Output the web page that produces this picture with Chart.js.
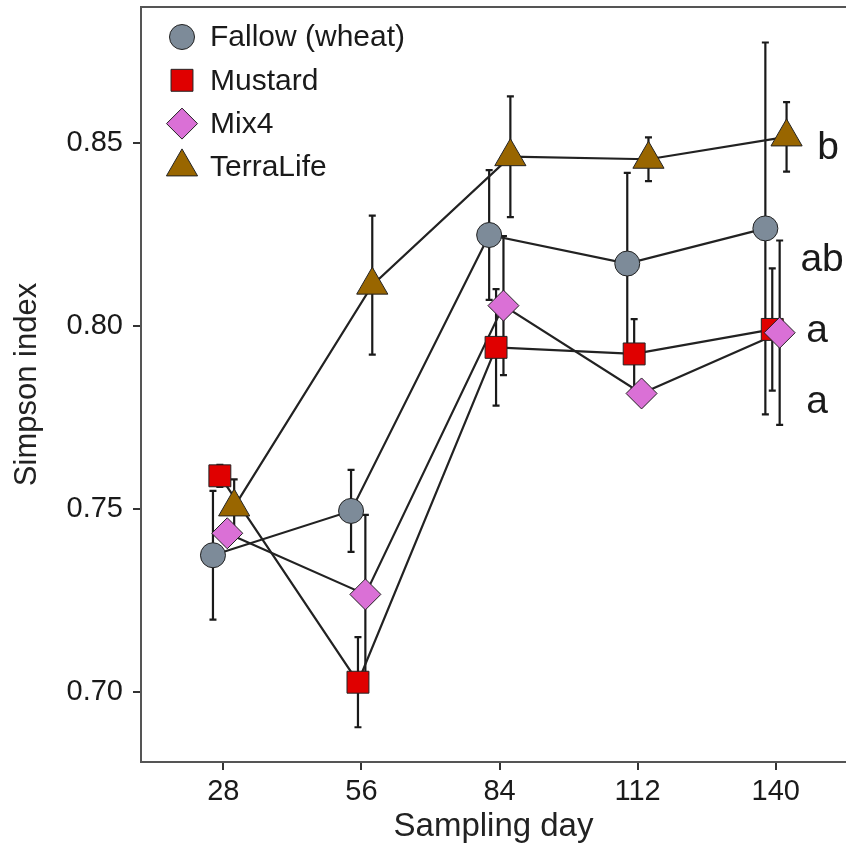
<!DOCTYPE html>
<html>
<head>
<meta charset="utf-8">
<script src="https://cdn.jsdelivr.net/npm/chart.js@4.4.1/dist/chart.umd.min.js"></script>
<style>
  html, body { margin: 0; padding: 0; background: #fff; }
</style>
</head>
<body>
<canvas id="simpsonChart" width="846" height="848"></canvas>
<script>
// Simpson index by sampling day, four cover-crop treatments

const days = [28, 56, 84, 112, 140];
const yTicks = [0.70, 0.75, 0.80, 0.85];
const seriesNames = ['Fallow (wheat)', 'Mustard', 'Mix4', 'TerraLife'];

// means
const fallow  = [0.7373, 0.7494, 0.8248, 0.8170, 0.8266];
const mustard = [0.7590, 0.7026, 0.7941, 0.7923, 0.7990];
const mix4    = [0.7433, 0.7266, 0.8055, 0.7815, 0.7981];
const terra   = [0.7505, 0.8111, 0.8462, 0.8455, 0.8516];

// standard errors
const fallowErr  = [0.0176, 0.0112, 0.0177, 0.0248, 0.0508];
const mustardErr = [0.0030, 0.0123, 0.0159, 0.0095, 0.0167];
const mix4Err    = [0.0030, 0.0217, 0.0190, 0.0030, 0.0252];
const terraErr   = [0.0075, 0.0190, 0.0165, 0.0060, 0.0095];

// significance letters at the last sampling day
const sigLetters = ['b', 'ab', 'a', 'a'];
const sigValues  = [0.8486, 0.8180, 0.7985, 0.7790];

// styling
const dodge = [-2.1, -0.7, 0.8, 2.2];
const fills = ['#7d8b99', '#e00000', '#da70d6', '#996600'];
const shapes = ['circle', 'rect', 'rectRot', 'triangle'];
const radii = [12.5, 15.5, 15.5, 18];
const letterX = [150.6, 149.4, 148.4, 148.4];

const means = [fallow, mustard, mix4, terra];
const errs = [fallowErr, mustardErr, mix4Err, terraErr];
const FONT = "'Liberation Sans', Arial, sans-serif";

function pts(k) {
  return days.map((d, i) => ({ x: d + dodge[k], y: means[k][i] }));
}

const datasets = [];
// lines first (drawn behind)
means.forEach((m, k) => {
  datasets.push({
    label: seriesNames[k] + ' line',
    data: pts(k),
    borderColor: '#222',
    borderWidth: 2.2,
    pointRadius: 0,
    fill: false,
    tension: 0,
    order: 10
  });
});
// markers on top
means.forEach((m, k) => {
  datasets.push({
    label: seriesNames[k],
    data: pts(k),
    showLine: false,
    pointStyle: shapes[k],
    pointRadius: radii[k],
    pointBackgroundColor: fills[k],
    pointBorderColor: '#222',
    pointBorderWidth: 1,
    order: 4 - k
  });
});

const errorBars = {
  id: 'errorBars',
  beforeDatasetsDraw(chart) {
    const { ctx, scales: { x, y } } = chart;
    ctx.save();
    ctx.strokeStyle = '#1a1a1a';
    ctx.lineWidth = 2.2;
    means.forEach((m, k) => {
      days.forEach((d, i) => {
        const px = x.getPixelForValue(d + dodge[k]);
        const top = y.getPixelForValue(m[i] + errs[k][i]);
        const bot = y.getPixelForValue(m[i] - errs[k][i]);
        ctx.beginPath();
        ctx.moveTo(px, top); ctx.lineTo(px, bot);
        ctx.moveTo(px - 3.5, top); ctx.lineTo(px + 3.5, top);
        ctx.moveTo(px - 3.5, bot); ctx.lineTo(px + 3.5, bot);
        ctx.stroke();
      });
    });
    ctx.restore();
  }
};

const frame = {
  id: 'frame',
  afterDraw(chart) {
    const { ctx, chartArea: a } = chart;
    ctx.save();
    ctx.strokeStyle = '#555';
    ctx.lineWidth = 2;
    ctx.beginPath();
    ctx.moveTo(a.right, a.top);
    ctx.lineTo(a.left, a.top);
    ctx.lineTo(a.left, a.bottom);
    ctx.lineTo(a.right, a.bottom);
    ctx.stroke();
    ctx.restore();
  }
};

const letters = {
  id: 'letters',
  afterDatasetsDraw(chart) {
    const { ctx, scales: { x, y } } = chart;
    ctx.save();
    ctx.fillStyle = '#1a1a1a';
    ctx.font = '39px ' + FONT;
    ctx.textAlign = 'center';
    ctx.textBaseline = 'middle';
    sigLetters.forEach((t, k) => {
      ctx.fillText(t, x.getPixelForValue(letterX[k]), y.getPixelForValue(sigValues[k]));
    });
    ctx.restore();
  }
};

const legendBox = {
  id: 'legendBox',
  afterDraw(chart) {
    const { ctx, chartArea: a } = chart;
    ctx.save();
    ctx.font = '30px ' + FONT;
    ctx.textBaseline = 'middle';
    seriesNames.forEach((name, k) => {
      const cx = a.left + 41;
      const cy = a.top + 30 + k * 43.3;
      ctx.fillStyle = fills[k];
      ctx.strokeStyle = '#222';
      Chart.helpers.drawPoint(ctx, { pointStyle: shapes[k], radius: radii[k], borderWidth: 1, rotation: 0 }, cx, cy);
      ctx.fillStyle = '#1a1a1a';
      ctx.fillText(name, a.left + 69, cy + 1);
    });
    ctx.restore();
  }
};

new Chart(document.getElementById('simpsonChart'), {
  type: 'line',
  data: { datasets },
  options: {
    responsive: false,
    devicePixelRatio: 1,
    animation: false,
    layout: { autoPadding: false, padding: { top: 7, left: 0, right: 0, bottom: 0 } },
    plugins: { legend: { display: false }, tooltip: { enabled: false } },
    scales: {
      x: {
        type: 'linear',
        min: 11.31,
        max: 154.25,
        afterBuildTicks: s => { s.ticks = days.map(v => ({ value: v })); },
        afterFit: s => { s.height = 86; s.paddingLeft = 0; s.paddingRight = 0; },
        grid: { drawOnChartArea: false, tickLength: 8, color: '#333', lineWidth: 2 },
        border: { display: false },
        ticks: { color: '#1a1a1a', font: { size: 29, family: FONT }, padding: 5, maxRotation: 0 },
        title: { display: true, text: 'Sampling day', color: '#222', font: { size: 33, family: FONT }, padding: { top: 0, bottom: 1 } }
      },
      y: {
        min: 0.6808,
        max: 0.8871,
        afterBuildTicks: s => { s.ticks = yTicks.map(v => ({ value: v })); },
        afterFit: s => { s.width = 141; s.paddingTop = 0; s.paddingBottom = 0; },
        grid: { drawOnChartArea: false, tickLength: 8, color: '#333', lineWidth: 2 },
        border: { display: false },
        ticks: { color: '#1a1a1a', font: { size: 29, family: FONT }, padding: 10, callback: v => v.toFixed(2) },
        title: { display: true, text: 'Simpson index', color: '#222', font: { size: 31, family: FONT }, padding: { top: 9, bottom: 0 } }
      }
    }
  },
  plugins: [errorBars, letters, frame, legendBox]
});
</script>
</body>
</html>
